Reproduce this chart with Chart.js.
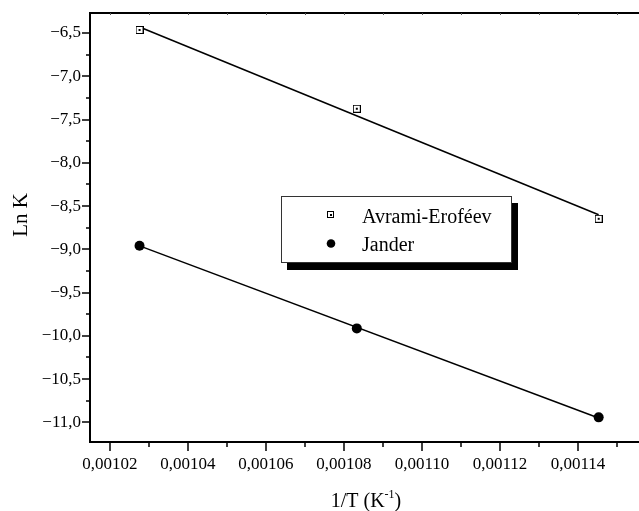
<!DOCTYPE html>
<html>
<head>
<meta charset="utf-8">
<script src="https://cdn.jsdelivr.net/npm/chart.js@4.4.1/dist/chart.umd.min.js"></script>
<style>
  html, body { margin: 0; padding: 0; background: #fff; overflow: hidden; width: 639px; height: 511px; }
  #wrap { width: 680px; height: 511px; }
</style>
</head>
<body>
<div id="wrap"><canvas id="lnkchart" width="680" height="511"></canvas></div>
<script>
// Data block
const invTemp = [0.0010276, 0.0010833, 0.0011453];
const avramiLnK = [-6.465, -7.375, -8.647];
const janderLnK = [-8.958, -9.914, -10.942];

// fitted lines, end points
const fitX = [0.0010276, 0.0011453];
const avramiFit = [-6.43, -8.60];
const janderFit = [-8.96, -10.95];

// tick values / labels
const xTicks = [0.00102, 0.00104, 0.00106, 0.00108, 0.00110, 0.00112, 0.00114];
const xTickLabels = ['0,00102', '0,00104', '0,00106', '0,00108', '0,00110', '0,00112', '0,00114'];
const xMinor = [0.00103, 0.00105, 0.00107, 0.00109, 0.00111, 0.00113, 0.00115];
const yTicks = [-11.0, -10.5, -10.0, -9.5, -9.0, -8.5, -8.0, -7.5, -7.0, -6.5];
const yTickLabels = ['\u221211,0', '\u221210,5', '\u221210,0', '\u22129,5', '\u22129,0', '\u22128,5', '\u22128,0', '\u22127,5', '\u22127,0', '\u22126,5'];
const yMinor = [-10.75, -10.25, -9.75, -9.25, -8.75, -8.25, -7.75, -7.25, -6.75];

const toPoints = (xs, ys) => xs.map((x, i) => ({x: x, y: ys[i]}));

// open square with a dot in the middle (Origin style marker)
const squareMarker = document.createElement('canvas');
squareMarker.width = 8;
squareMarker.height = 8;
(function () {
    const c = squareMarker.getContext('2d');
    c.fillStyle = '#fff';
    c.fillRect(0, 0, 8, 8);
    c.strokeStyle = '#000';
    c.lineWidth = 1;
    c.strokeRect(0.5, 0.5, 7, 7);
    c.fillStyle = '#000';
    c.fillRect(3, 3, 2, 2);
})();

Chart.defaults.font.family = '"Liberation Serif", "Times New Roman", serif';
Chart.defaults.color = '#000';

// Axes / legend / titles plugin block
const originFrame = {
    id: 'originFrame',
    beforeDatasetsDraw(chart) {
        const ctx = chart.ctx;
        const a = chart.chartArea;
        const xs = chart.scales.x, ys = chart.scales.y;
        ctx.save();
        ctx.strokeStyle = '#000';
        ctx.lineWidth = 2;
        ctx.beginPath();
        ctx.moveTo(a.left, a.top);
        ctx.lineTo(a.right, a.top);
        ctx.moveTo(a.left, a.top - 1);
        ctx.lineTo(a.left, a.bottom + 1);
        ctx.moveTo(a.left - 1, a.bottom);
        ctx.lineTo(a.right, a.bottom);
        ctx.stroke();
        ctx.lineWidth = 1.5;
        ctx.beginPath();
        xTicks.forEach(v => { const p = Math.round(xs.getPixelForValue(v)); ctx.moveTo(p, a.bottom); ctx.lineTo(p, a.bottom + 9); });
        xMinor.forEach(v => { const p = Math.round(xs.getPixelForValue(v)); ctx.moveTo(p, a.bottom); ctx.lineTo(p, a.bottom + 5); });
        yTicks.forEach(v => { const p = Math.round(ys.getPixelForValue(v)); ctx.moveTo(a.left, p); ctx.lineTo(a.left - 8, p); });
        yMinor.forEach(v => { const p = Math.round(ys.getPixelForValue(v)); ctx.moveTo(a.left, p); ctx.lineTo(a.left - 4, p); });
        ctx.stroke();
        // faint ticks on the top frame
        ctx.strokeStyle = '#555';
        ctx.lineWidth = 1;
        ctx.beginPath();
        xTicks.concat(xMinor).forEach(v => { const p = Math.round(xs.getPixelForValue(v)) + 0.5; ctx.moveTo(p, a.top); ctx.lineTo(p, a.top + 2); });
        ctx.stroke();

        // axis titles
        ctx.fillStyle = '#000';
        ctx.font = '21px "Liberation Serif"';
        ctx.textBaseline = 'middle';
        ctx.textAlign = 'center';
        ctx.save();
        ctx.translate(21, 215);
        ctx.rotate(-Math.PI / 2);
        ctx.fillText('Ln K', 0, 0);
        ctx.restore();

        const partA = '1/T (K', sup = '-1', partB = ')';
        ctx.textBaseline = 'alphabetic';
        ctx.textAlign = 'left';
        ctx.font = '20px "Liberation Serif"';
        const wA = ctx.measureText(partA).width, wB = ctx.measureText(partB).width;
        ctx.font = '12px "Liberation Serif"';
        const wS = ctx.measureText(sup).width;
        let x0 = 366 - (wA + wS + wB) / 2;
        ctx.font = '20px "Liberation Serif"';
        ctx.fillText(partA, x0, 507);
        ctx.font = '12px "Liberation Serif"';
        ctx.fillText(sup, x0 + wA, 498);
        ctx.font = '20px "Liberation Serif"';
        ctx.fillText(partB, x0 + wA + wS, 507);
        ctx.restore();
    },
    afterDatasetsDraw(chart) {
        const ctx = chart.ctx;
        const box = {left: 281, top: 196, right: 512, bottom: 263};
        ctx.save();
        ctx.fillStyle = '#000';
        ctx.fillRect(box.left + 6, box.top + 7, box.right - box.left, box.bottom - box.top);
        ctx.fillStyle = '#fff';
        ctx.fillRect(box.left, box.top, box.right - box.left, box.bottom - box.top);
        ctx.strokeStyle = '#333';
        ctx.lineWidth = 1;
        ctx.strokeRect(box.left + 0.5, box.top + 0.5, box.right - box.left - 1, box.bottom - box.top - 1);

        // Avrami entry
        ctx.fillStyle = '#fff';
        ctx.fillRect(327.5, 211.5, 7, 7);
        ctx.strokeStyle = '#000';
        ctx.strokeRect(327.5, 211.5, 6, 6);
        ctx.fillStyle = '#000';
        ctx.fillRect(330, 214, 2, 2);
        // Jander entry
        ctx.beginPath();
        ctx.arc(331, 243.5, 4.3, 0, Math.PI * 2);
        ctx.fill();

        ctx.font = '20px "Liberation Serif"';
        ctx.textAlign = 'left';
        ctx.textBaseline = 'alphabetic';
        ctx.fillText(chart.data.datasets[0].label, 362, 223);
        ctx.fillText(chart.data.datasets[1].label, 362, 251);
        ctx.restore();
    }
};

// Config block
const lnkConfig = {
    type: 'scatter',
    data: {
        datasets: [
            {
                label: 'Avrami-Eroféev',
                data: toPoints(invTemp, avramiLnK),
                pointStyle: squareMarker,
                pointRadius: 4,
                showLine: false,
                order: 0
            },
            {
                label: 'Jander',
                data: toPoints(invTemp, janderLnK),
                pointStyle: 'circle',
                pointRadius: 5,
                backgroundColor: '#000',
                borderColor: '#000',
                borderWidth: 0,
                showLine: false,
                order: 0
            },
            {
                label: 'Avrami fit',
                data: toPoints(fitX, avramiFit),
                showLine: true,
                borderColor: '#000',
                borderWidth: 1.5,
                pointRadius: 0,
                order: 1
            },
            {
                label: 'Jander fit',
                data: toPoints(fitX, janderFit),
                showLine: true,
                borderColor: '#000',
                borderWidth: 1.5,
                pointRadius: 0,
                order: 1
            }
        ]
    },
    options: {
        responsive: false,
        animation: false,
        devicePixelRatio: 1,
        layout: { padding: { top: 13, right: 24, left: 0, bottom: 0 } },
        plugins: {
            legend: { display: false },
            tooltip: { enabled: false }
        },
        scales: {
            x: {
                type: 'linear',
                min: 0.0010149,
                max: 0.00116,
                afterFit(scale) {
                    scale.height = 69;
                    scale.paddingLeft = 0;
                    scale.paddingRight = 0;
                },
                afterBuildTicks(scale) { scale.ticks = xTicks.map(v => ({value: v})); },
                grid: { display: false, drawTicks: false },
                border: { display: false },
                ticks: {
                    padding: 12,
                    maxRotation: 0,
                    autoSkip: false,
                    font: { size: 17 },
                    callback: (value, index) => xTickLabels[index]
                }
            },
            y: {
                type: 'linear',
                min: -11.227,
                max: -6.269,
                afterFit(scale) {
                    scale.width = 90;
                    scale.paddingTop = 0;
                    scale.paddingBottom = 0;
                },
                afterBuildTicks(scale) { scale.ticks = yTicks.map(v => ({value: v})); },
                grid: { display: false, drawTicks: false },
                border: { display: false },
                ticks: {
                    padding: 9,
                    autoSkip: false,
                    font: { size: 17 },
                    callback: (value, index) => yTickLabels[index]
                }
            }
        }
    },
    plugins: [originFrame]
};

// render block
const lnkChart = new Chart(document.getElementById('lnkchart'), lnkConfig);
</script>
</body>
</html>
